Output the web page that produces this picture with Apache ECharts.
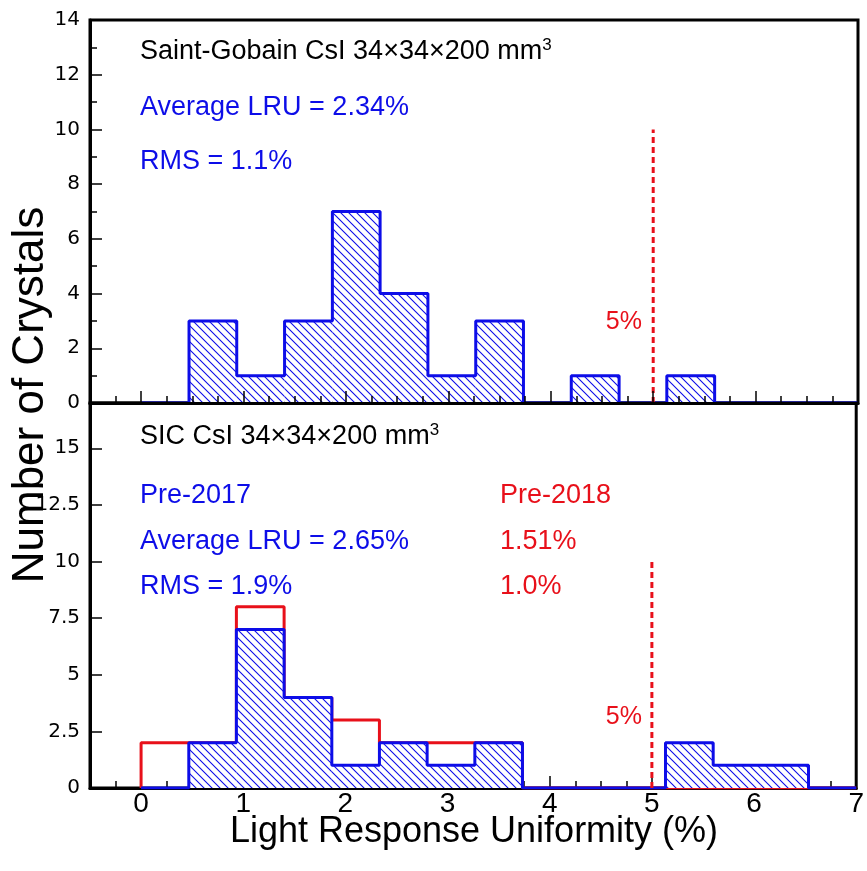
<!DOCTYPE html>
<html><head><meta charset="utf-8">
<script src="https://cdn.jsdelivr.net/npm/echarts@6/dist/echarts.min.js"></script>
<style>html,body{margin:0;padding:0;background:#fff}#c{width:867px;height:871px}</style>
</head><body><div id="c"></div>
<script>
// ---- data ----
const binEdges = [0, 0.467, 0.933, 1.4, 1.867, 2.333, 2.8, 3.267, 3.733, 4.2, 4.667, 5.133, 5.6, 6.067, 6.533, 7];
const saintGobainCounts = [0, 3, 1, 3, 7, 4, 1, 3, 0, 1, 0, 1, 0, 0, 0];
const sicPre2017Counts  = [0, 2, 7, 4, 1, 2, 1, 2, 0, 0, 0, 2, 1, 1, 0];
const sicPre2018Counts  = [2, 2, 8, 4, 3, 2, 2, 2, 0, 0, 0, 0, 0, 0, 0];
const limitX = 5;
const limitTop = 10;
const topYTicks = [0, 2, 4, 6, 8, 10, 12, 14];
const bottomYTicks = [0, 2.5, 5, 7.5, 10, 12.5, 15];
const xTickLabels = [0, 1, 2, 3, 4, 5, 6, 7];

const BLUE = '#0d0de8';
const RED = '#e8101a';

// hatch pattern
const tile = document.createElement('canvas');
tile.width = 8; tile.height = 8;
(function(){
  const g = tile.getContext('2d');
  g.fillStyle = '#fff'; g.fillRect(0,0,8,8);
  g.strokeStyle = BLUE; g.lineWidth = 1.1;
  g.beginPath();
  g.moveTo(-2,-2); g.lineTo(10,10);
  g.moveTo(-10,-2); g.lineTo(2,10);
  g.moveTo(6,-2); g.lineTo(18,10);
  g.stroke();
})();
const hatch = { image: tile, repeat: 'repeat' };

function barsOf(counts){
  const out = [];
  counts.forEach((c,i)=>{ if(c>0) out.push([binEdges[i], binEdges[i+1], c]); });
  return out;
}
function stepOf(counts){
  const pts = [[binEdges[0], 0]];
  counts.forEach((c,i)=>{ pts.push([binEdges[i], c]); pts.push([binEdges[i+1], c]); });
  pts.push([binEdges[binEdges.length-1], 0]);
  return pts;
}
function hatchItem(params, api){
  const p1 = api.coord([api.value(0), api.value(2)]);
  const p2 = api.coord([api.value(1), 0]);
  return { type:'rect', shape:{x:p1[0], y:p1[1], width:p2[0]-p1[0], height:p2[1]-p1[1]}, style:{fill:hatch} };
}

const chart = echarts.init(document.getElementById('c'), null, {renderer:'canvas'});

const FONT = '"Liberation Sans", Arial, sans-serif';
function xAxisCfg(gi, showLabels){
  return {
    type:'value', gridIndex:gi, min:-0.5, max:7, minInterval:1, maxInterval:1, splitNumber:8,
    z: gi===0 ? 5 : 0,
    axisLine:{show:true, onZero:false, lineStyle:{color:'#000', width:3}},
    axisTick:{show:true, inside:true, length:12, lineStyle:{color:'#000', width:1.5}},
    minorTick:{show:true, splitNumber:4, length:7, lineStyle:{color:'#000', width:1.5}},
    splitLine:{show:false},
    axisLabel:{show:showLabels, color:'#000', fontFamily:FONT, fontSize:28, margin:2,
      formatter: v => xTickLabels.indexOf(v) >= 0 ? String(v) : ''}
  };
}
function yAxisCfg(gi, max, interval, ticks, minor){
  return {
    type:'value', gridIndex:gi, min:0, max:max, interval:interval,
    axisLine:{show:true, onZero:false, lineStyle:{color:'#000', width:3}},
    axisTick:{show:true, inside:true, length:12, lineStyle:{color:'#000', width:1.5}},
    minorTick:{show:minor, splitNumber:2, length:7, lineStyle:{color:'#000', width:1.5}},
    splitLine:{show:false},
    axisLabel:{color:'#000', fontFamily:'"DejaVu Sans", sans-serif', fontSize:20, margin:10,
      formatter: v => ticks.indexOf(v) >= 0 ? String(v) : ''}
  };
}

function txt(x, y, text, color, size, align){
  return { type:'text', x:x, y:y, z:50, style:{ text:text, fill:color, font: size+'px '+FONT,
    textAlign: align||'left', textVerticalAlign:'middle' } };
}
function supTxt(x, y, base, sup){
  return { type:'text', x:x, y:y, z:50, style:{
    text:'{a|'+base+'}{s|'+sup+'}', textVerticalAlign:'middle', textAlign:'left',
    rich:{ a:{fontFamily:FONT, fontSize:27, fill:'#000', color:'#000'},
           s:{fontFamily:FONT, fontSize:17, fill:'#000', color:'#000', verticalAlign:'top', padding:[0,0,14,0]} } } };
}

const option = {
  animation:false,
  backgroundColor:'#fff',
  grid:[
    {left:90, top:20, width:768, height:383, show:true, borderColor:'#000', borderWidth:3, backgroundColor:'transparent'},
    {left:90, top:403, width:768, height:385, show:true, borderColor:'#000', borderWidth:3, backgroundColor:'transparent'}
  ],
  xAxis:[ xAxisCfg(0,false), xAxisCfg(1,true) ],
  yAxis:[ yAxisCfg(0,14,2,topYTicks,true), yAxisCfg(1,17,2.5,bottomYTicks,false) ],
  series:[
    { type:'custom', xAxisIndex:0, yAxisIndex:0, renderItem:hatchItem, encode:{x:[0,1], y:2}, data:barsOf(saintGobainCounts), z:2, silent:true },
    { type:'line', xAxisIndex:0, yAxisIndex:0, data:stepOf(saintGobainCounts), showSymbol:false, symbol:'none',
      lineStyle:{color:BLUE, width:3}, z:3, silent:true },
    { type:'line', xAxisIndex:0, yAxisIndex:0, data:[[limitX,0],[limitX,limitTop]], symbol:'none',
      lineStyle:{color:RED, width:3, type:[6,4]}, z:4, silent:true },

    { type:'line', xAxisIndex:1, yAxisIndex:1, data:stepOf(sicPre2018Counts), symbol:'none',
      lineStyle:{color:RED, width:3}, z:2, silent:true },
    { type:'custom', xAxisIndex:1, yAxisIndex:1, renderItem:hatchItem, encode:{x:[0,1], y:2}, data:barsOf(sicPre2017Counts), z:3, silent:true },
    { type:'line', xAxisIndex:1, yAxisIndex:1, data:stepOf(sicPre2017Counts), symbol:'none',
      lineStyle:{color:BLUE, width:3}, z:4, silent:true },
    { type:'line', xAxisIndex:1, yAxisIndex:1, data:[[limitX,0],[limitX,limitTop]], symbol:'none',
      lineStyle:{color:RED, width:3, type:[6,4]}, z:5, silent:true }
  ],
  graphic:[
    supTxt(140, 52, 'Saint-Gobain CsI 34×34×200 mm', '3'),
    txt(140, 108, 'Average LRU = 2.34%', BLUE, 27),
    txt(140, 162, 'RMS = 1.1%', BLUE, 27),
    txt(642, 322, '5%', RED, 25, 'right'),

    supTxt(140, 437, 'SIC CsI 34×34×200 mm', '3'),
    txt(140, 496, 'Pre-2017', BLUE, 27),
    txt(140, 542, 'Average LRU = 2.65%', BLUE, 27),
    txt(140, 587, 'RMS = 1.9%', BLUE, 27),
    txt(500, 496, 'Pre-2018', RED, 27),
    txt(500, 542, '1.51%', RED, 27),
    txt(500, 587, '1.0%', RED, 27),
    txt(642, 717, '5%', RED, 25, 'right'),

    txt(474, 832, 'Light Response Uniformity (%)', '#000', 36, 'center'),
    { type:'text', x:31, y:395, rotation:Math.PI/2, z:50, style:{ text:'Number of Crystals', fill:'#000',
      font:'44px '+FONT, textAlign:'center', textVerticalAlign:'middle' } }
  ]
};
chart.setOption(option);
</script></body></html>
